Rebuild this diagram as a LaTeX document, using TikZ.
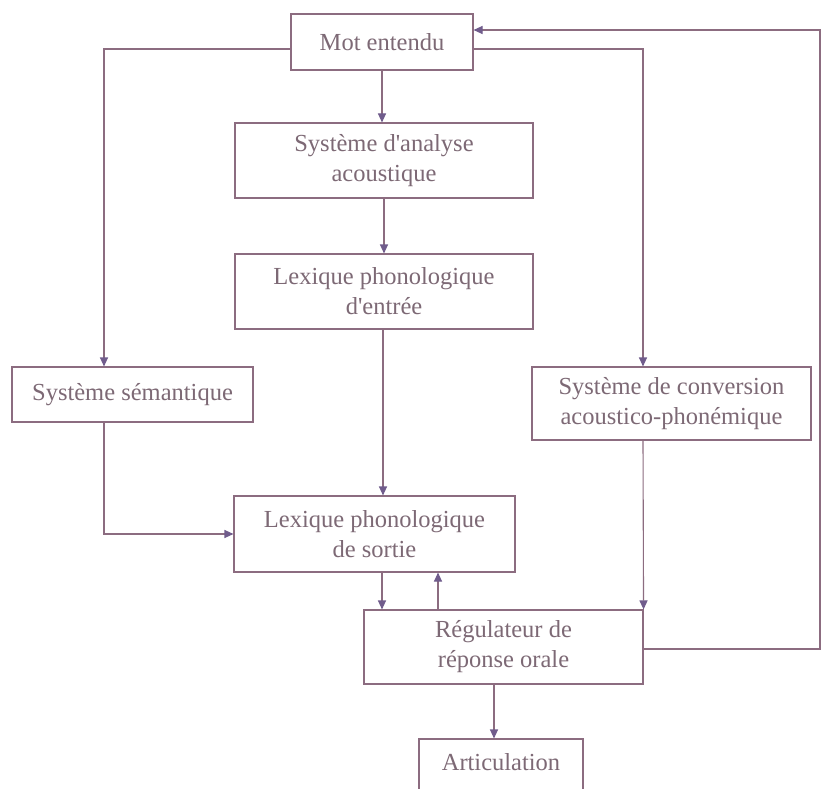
\documentclass[tikz,border=0pt]{standalone}
\usepackage{fontspec}
\setmainfont{Liberation Serif}
\usetikzlibrary{arrows.meta}
\definecolor{linecol}{RGB}{140,108,128}
\definecolor{tipcol}{RGB}{112,92,140}
\definecolor{txtcol}{RGB}{125,105,117}
\begin{document}
\begin{tikzpicture}[x=1pt,y=-1pt,
  box/.style={draw=linecol, line width=1.1pt, text=txtcol, align=center,
    inner sep=0pt, font=\fontsize{24.5}{30}\selectfont},
  arr/.style={draw=linecol, line width=1.1pt,
    -{Triangle[length=9pt,width=8pt,color=tipcol]}},
  ln/.style={draw=linecol, line width=1.1pt}]
\useasboundingbox (0,0) rectangle (822,789);
\fill[white] (0,0) rectangle (822,789);
% boxes
\node[box, minimum width=182pt, minimum height=56pt] (mot) at (382,42) {Mot entendu};
\node[box, minimum width=298pt, minimum height=75pt] (analyse) at (384,160.5) {Système d\textquotesingle analyse\\acoustique};
\node[box, minimum width=298pt, minimum height=75pt] (entree) at (384,291.5) {Lexique phonologique\\d\textquotesingle entrée};
\node[box, minimum width=241pt, minimum height=55pt] (sem) at (132.5,394.5) {Système sémantique};
\node[box, minimum width=279pt, minimum height=73pt] (conv) at (671.5,403.5) {Système de conversion\\acoustico-phonémique};
\node[box, minimum width=281pt, minimum height=76pt] (sortie) at (374.5,534) {Lexique phonologique\\de sortie};
\node[box, minimum width=279pt, minimum height=74pt] (reg) at (503.5,647) {Régulateur de\\réponse orale};
\node[box, minimum width=164pt, text height=31pt, text depth=32pt, anchor=base] (artic) at (501,770) {Articulation};
\coordinate (fb) at (820,649);
% connectors
\draw[arr] (mot.south) -- (mot.south |- analyse.north);
\draw[arr] (analyse.south) -- (analyse.south |- entree.north);
\draw[arr] ([xshift=-1pt]entree.south) -- ([xshift=-1pt]entree.south |- sortie.north);
\draw[arr] ([yshift=-7pt]mot.west) -| ([xshift=-28.5pt]sem.north);
\draw[arr] ([yshift=-7pt]mot.east) -| ([xshift=-28.5pt]conv.north);
\draw[arr] ([xshift=-28.5pt]sem.south) |- (sortie.west);
\draw[arr] ([xshift=-28.5pt]conv.south) -- (reg.north east);
\draw[arr] ([xshift=7.5pt]sortie.south) -- ([xshift=7.5pt]sortie.south |- reg.north);
\draw[arr] ([xshift=-65.5pt]reg.north) -- ([xshift=-65.5pt]reg.north |- sortie.south);
\draw[arr] ([xshift=-9.5pt]reg.south) -- ([xshift=-9.5pt]reg.south |- artic.north);
\draw[arr] (reg.east |- fb) -- (fb) |- ([yshift=12pt]mot.east);
\end{tikzpicture}
\end{document}
